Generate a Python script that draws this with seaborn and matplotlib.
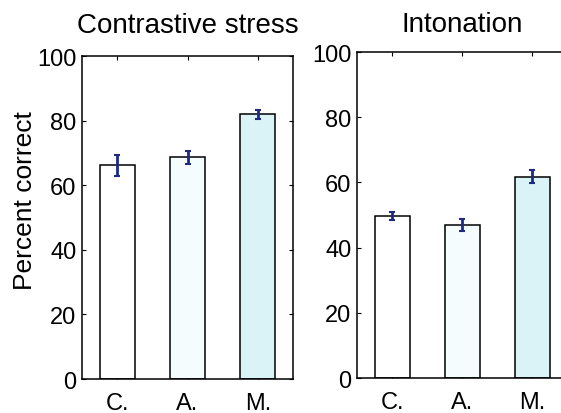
import matplotlib
matplotlib.use("Agg")
import matplotlib.pyplot as plt
import seaborn as sns
import pandas as pd

# Listener groups and panel data
groups = ["C.", "A.", "M."]
panels = ["Contrastive stress", "Intonation"]
stress_pct = [66.2, 68.7, 82.0]
stress_err = [3.2, 2.0, 1.4]
inton_pct = [49.8, 47.0, 61.8]
inton_err = [1.2, 1.9, 2.1]
yticks = [0, 20, 40, 60, 80, 100]

bar_colors = ["#ffffff", "#f5fcfd", "#d9f3f7"]
err_color = "#1c2a86"

sns.set_style("ticks")
plt.rcParams["font.family"] = ["Liberation Sans", "DejaVu Sans"]
plt.rcParams["text.color"] = "black"
plt.rcParams["axes.labelcolor"] = "black"
plt.rcParams["xtick.color"] = "black"
plt.rcParams["ytick.color"] = "black"

fig = plt.figure(figsize=(5.61, 4.14), dpi=100)
ax1 = fig.add_axes([0.1462, 0.0821, 0.3761, 0.7802])
ax2 = fig.add_axes([0.6364, 0.0845, 0.3743, 0.7874])

for ax, title, vals, errs, tpad in [(ax1, panels[0], stress_pct, stress_err, 17),
                                    (ax2, panels[1], inton_pct, inton_err, 15)]:
    df = pd.DataFrame({"group": groups, "pct": vals})
    sns.barplot(data=df, x="group", y="pct", hue="group", palette=bar_colors,
                legend=False, width=0.5, edgecolor="black", linewidth=1.1,
                errorbar=None, ax=ax, saturation=1)
    ax.errorbar(range(len(groups)), vals, yerr=errs, fmt="none",
                ecolor=err_color, elinewidth=2, capsize=2, capthick=1.5, zorder=5)
    ax.set_xlim(-0.5, 2.5)
    ax.set_ylim(0, 100)
    ax.set_yticks(yticks)
    ax.set_title(title, fontsize=20, pad=tpad)
    ax.set_xlabel("")
    ax.set_ylabel("")
    ax.tick_params(direction="in", top=True, right=True, length=3,
                   width=0.8, labelsize=17, pad=4)
    ax.tick_params(axis="x", pad=9)
    for s in ax.spines.values():
        s.set_visible(True)
        s.set_linewidth(1.1)
        s.set_color("black")

ax1.set_ylabel("Percent correct", fontsize=19)
ax1.yaxis.set_label_coords(-0.215, 0.555)

fig.savefig("out.png", dpi=100)
